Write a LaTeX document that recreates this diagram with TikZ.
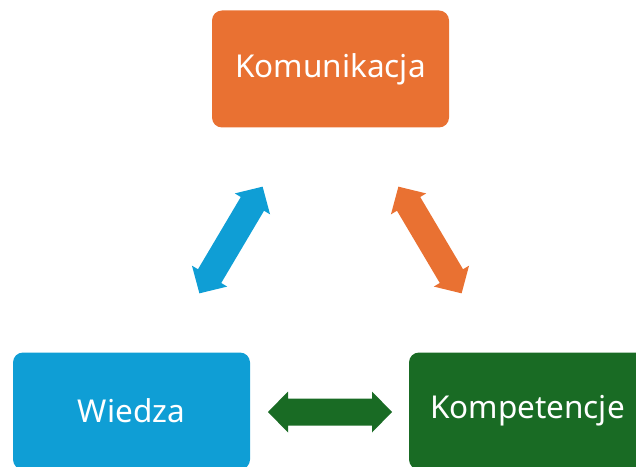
\documentclass[tikz,border=0pt]{standalone}
\usepackage{fontspec}
\setmainfont{Noto Sans}
\definecolor{korange}{HTML}{E97132}
\definecolor{kblue}{HTML}{0F9ED5}
\definecolor{kgreen}{HTML}{196B24}
\begin{document}
\begin{tikzpicture}[x=1pt,y=1pt,
  box/.style={rounded corners=10pt, minimum width=237pt, minimum height=117pt,
    text=white, inner sep=0pt, font=\fontsize{31.5}{36}\selectfont},
  blockarrow/.pic={
    \fill (-62,0) -- (-42,20.5) -- (-42,13.5) -- (42,13.5) -- (42,20.5) -- (62,0)
      -- (42,-20.5) -- (42,-13.5) -- (-42,-13.5) -- (-42,-20.5) -- cycle;
  }]
\useasboundingbox (0,0) rectangle (636,466);
\clip (0,0) rectangle (636,466);
\node[box, fill=korange] (kom) at (330.5,397) {Komunikacja};
\node[box, fill=kblue] (wie) at (131.5,55) {Wiedza};
\node[box, fill=kgreen] (kmp) at (527.5,55) {Kompetencje};
\pic[kblue, rotate=59.35] (ab) at (231,226) {blockarrow};
\pic[korange, rotate=-59.35] (ao) at (430,226) {blockarrow};
\pic[kgreen] (ag) at (330,54) {blockarrow};
\end{tikzpicture}
\end{document}
